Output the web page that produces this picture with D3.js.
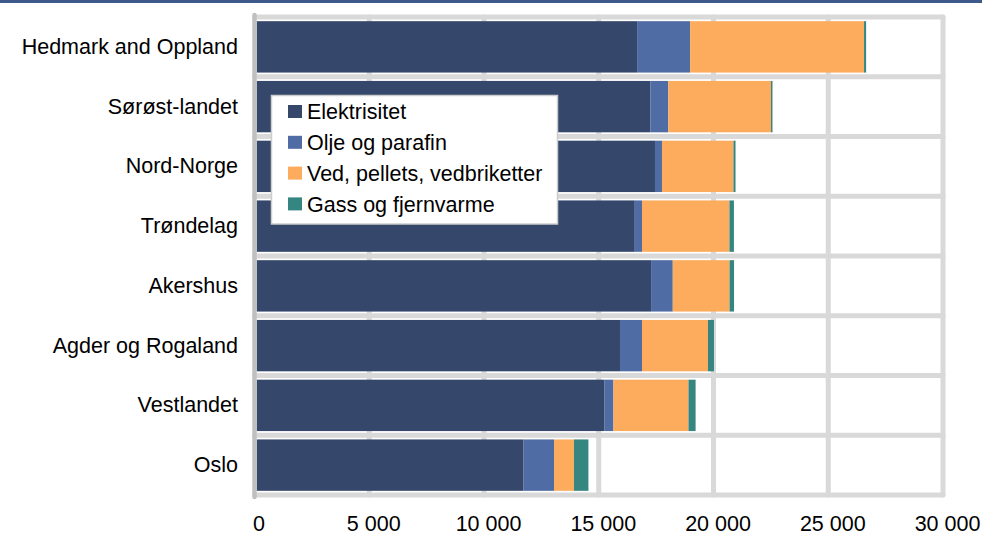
<!DOCTYPE html>
<html>
<head>
<meta charset="utf-8">
<script src="https://cdn.jsdelivr.net/npm/d3@7"></script>
<style>
  html, body { margin: 0; padding: 0; background: #fff; }
  svg { display: block; font-family: "Liberation Sans", Arial, sans-serif; }
</style>
</head>
<body>
<svg id="chart" width="982" height="536"></svg>
<script>
// Regions, top to bottom
const regions = ["Hedmark and Oppland", "Sørøst-landet", "Nord-Norge", "Trøndelag",
                 "Akershus", "Agder og Rogaland", "Vestlandet", "Oslo"];

// Energy sources (stack order) and their values per region
const seriesNames = ["Elektrisitet", "Olje og parafin", "Ved, pellets, vedbriketter", "Gass og fjernvarme"];
const elektrisitet = [16670, 17255, 17450, 16570, 17280, 15925, 15255, 11725];
const oljeParafin  = [ 2310,   775,   305,   315,   945,   960,   385,  1325];
const vedPellets   = [ 7580,  4475,  3115,  3810,  2475,  2875,  3270,   870];
const gassFjern    = [   90,    65,    90,   195,   195,   260,   310,   630];

const tickValues = [0, 5000, 10000, 15000, 20000, 25000, 30000];
const colors = ["#35476b", "#4f6ca4", "#fdab5c", "#358581"];

const rows = regions.map((r, i) => ({
  region: r,
  [seriesNames[0]]: elektrisitet[i],
  [seriesNames[1]]: oljeParafin[i],
  [seriesNames[2]]: vedPellets[i],
  [seriesNames[3]]: gassFjern[i]
}));

const svg = d3.select("#chart");

// Thin header band
svg.append("rect").attr("x", 0).attr("y", 0).attr("width", 982).attr("height", 3).attr("fill", "#3e5a8a");

const x = d3.scaleLinear().domain([0, 30000]).range([254.5, 943]);
const y = d3.scaleBand().domain(regions).range([17, 495]).paddingInner(0.14).paddingOuter(0.07);
const color = d3.scaleOrdinal().domain(seriesNames).range(colors);

const grid = svg.append("g").attr("stroke", "#d9d9d9").attr("stroke-width", 5).attr("stroke-linecap", "round");

// Vertical gridlines
grid.selectAll("line.v").data(tickValues.slice(1)).join("line")
  .attr("class", "v")
  .attr("x1", d => x(d)).attr("x2", d => x(d))
  .attr("y1", 17).attr("y2", 495);

// Horizontal gridlines on category boundaries
const bounds = regions.map(r => y(r) - y.step() * 0.07).concat([495]);
grid.selectAll("line.h").data(bounds).join("line")
  .attr("class", "h")
  .attr("x1", 254.5).attr("x2", 943)
  .attr("y1", d => d).attr("y2", d => d);

// Stacked bars
const stacked = d3.stack().keys(seriesNames)(rows);
svg.append("g").selectAll("g").data(stacked).join("g")
  .attr("fill", d => color(d.key))
  .selectAll("rect").data(d => d).join("rect")
  .attr("x", d => x(d[0]) + (d[0] === 0 ? 2.2 : 0))
  .attr("width", d => x(d[1]) - x(d[0]) - (d[0] === 0 ? 2.2 : 0))
  .attr("y", d => y(d.data.region))
  .attr("height", y.bandwidth());

// Category axis line
svg.append("line")
  .attr("x1", 254.5).attr("x2", 254.5).attr("y1", 15).attr("y2", 497)
  .attr("stroke", "#c0c0c0").attr("stroke-width", 4.5).attr("stroke-linecap", "round");

// Value axis labels
const locale = d3.formatLocale({ decimal: ",", thousands: " ", grouping: [3], currency: ["", ""] });
const xAxis = d3.axisBottom(x).tickValues(tickValues).tickFormat(locale.format(",d")).tickSize(0).tickPadding(0);
const gx = svg.append("g").attr("transform", "translate(4,516)").call(xAxis);
gx.select(".domain").remove();
gx.selectAll("text").attr("font-size", 21.5).attr("fill", "#000").attr("font-family", null).attr("dy", "0.71em");

// Category labels
const yAxis = d3.axisLeft(y).tickSize(0).tickPadding(16.5);
const gy = svg.append("g").attr("transform", "translate(254.5,0)").call(yAxis);
gy.select(".domain").remove();
gy.selectAll("text").attr("font-size", 21.5).attr("fill", "#000").attr("font-family", null);

// Legend
const legend = svg.append("g");
legend.append("rect")
  .attr("x", 271.5).attr("y", 95.5).attr("width", 286).attr("height", 128.5)
  .attr("fill", "#fff").attr("stroke", "#cdcdcd").attr("stroke-width", 1.5);
const items = legend.selectAll("g").data(seriesNames).join("g")
  .attr("transform", (d, i) => `translate(288,${111.5 + i * 30.8})`);
items.append("rect").attr("x", 0).attr("y", -6.5).attr("width", 14).attr("height", 13).attr("fill", d => color(d));
items.append("text").attr("x", 19).attr("dy", "0.36em").attr("font-size", 21.5).attr("fill", "#000").text(d => d);
</script>
</body>
</html>
